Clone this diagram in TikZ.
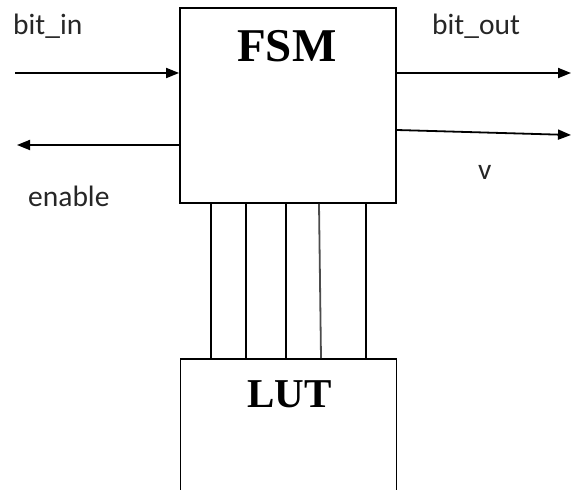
\documentclass[tikz,border=0pt]{standalone}
\usepackage{fontspec}
\setmainfont{Liberation Serif}
\newfontfamily\sigfont{Carlito}
\usetikzlibrary{arrows.meta,calc}
\tikzset{
  blockbox/.style={draw, line width=1.8bp, minimum width=216bp, inner sep=0pt},
  blocktitle/.style={anchor=base west, inner sep=0pt, font=\bfseries\fontsize{47bp}{50bp}\selectfont},
  sig/.style={anchor=base west, inner sep=0pt, text=black!85, font=\sigfont\fontsize{29.5bp}{34bp}\selectfont},
  wire/.style={line width=1.8bp},
  sigarrow/.style={line width=1.8bp, -{Triangle[length=13bp,width=10bp]}}
}
\begin{document}
\begin{tikzpicture}[x=1bp,y=-1bp]
\useasboundingbox (0,0) rectangle (571,490);
\clip (0,0) rectangle (571,490);
% blocks
\node[blockbox, minimum height=195bp] (fsm) at (288,105.5) {};
\node[blockbox, minimum height=160bp] (lut) at (288.5,439) {};
\node[blocktitle] (fsmtxt) at (237,62) {FSM};
\node[blocktitle, font=\bfseries\fontsize{41bp}{44bp}\selectfont] (luttxt) at (247,407) {LUT};
% bus wires
\draw[wire] (fsm.south -| 211,0) -- (lut.north -| 211,0);
\draw[wire] (fsm.south -| 246,0) -- (lut.north -| 246,0);
\draw[wire] (fsm.south -| 286,0) -- (lut.north -| 286,0);
\draw[wire, black!70] (fsm.south -| 319,0) -- (lut.north -| 321,0);
\draw[wire] (fsm.south -| 366,0) -- (lut.north -| 366,0);
% signals
\coordinate (inL) at (15,73);
\coordinate (enL) at (17,145);
\coordinate (outR) at (571,73);
\coordinate (vR) at (571,135);
\draw[sigarrow] (inL) -- (inL -| fsm.west);
\draw[sigarrow] (fsm.west |- enL) -- (enL);
\draw[sigarrow] (fsm.east |- outR) -- (outR);
\draw[sigarrow] (fsm.east |- 0,130) -- (vR);
% labels
\node[sig] (lin) at (13,35) {bit\_in};
\node[sig] (len) at (28,207) {enable};
\node[sig] (lout) at (432,35) {bit\_out};
\node[sig] (lv) at (478,180) {v};
\end{tikzpicture}
\end{document}
